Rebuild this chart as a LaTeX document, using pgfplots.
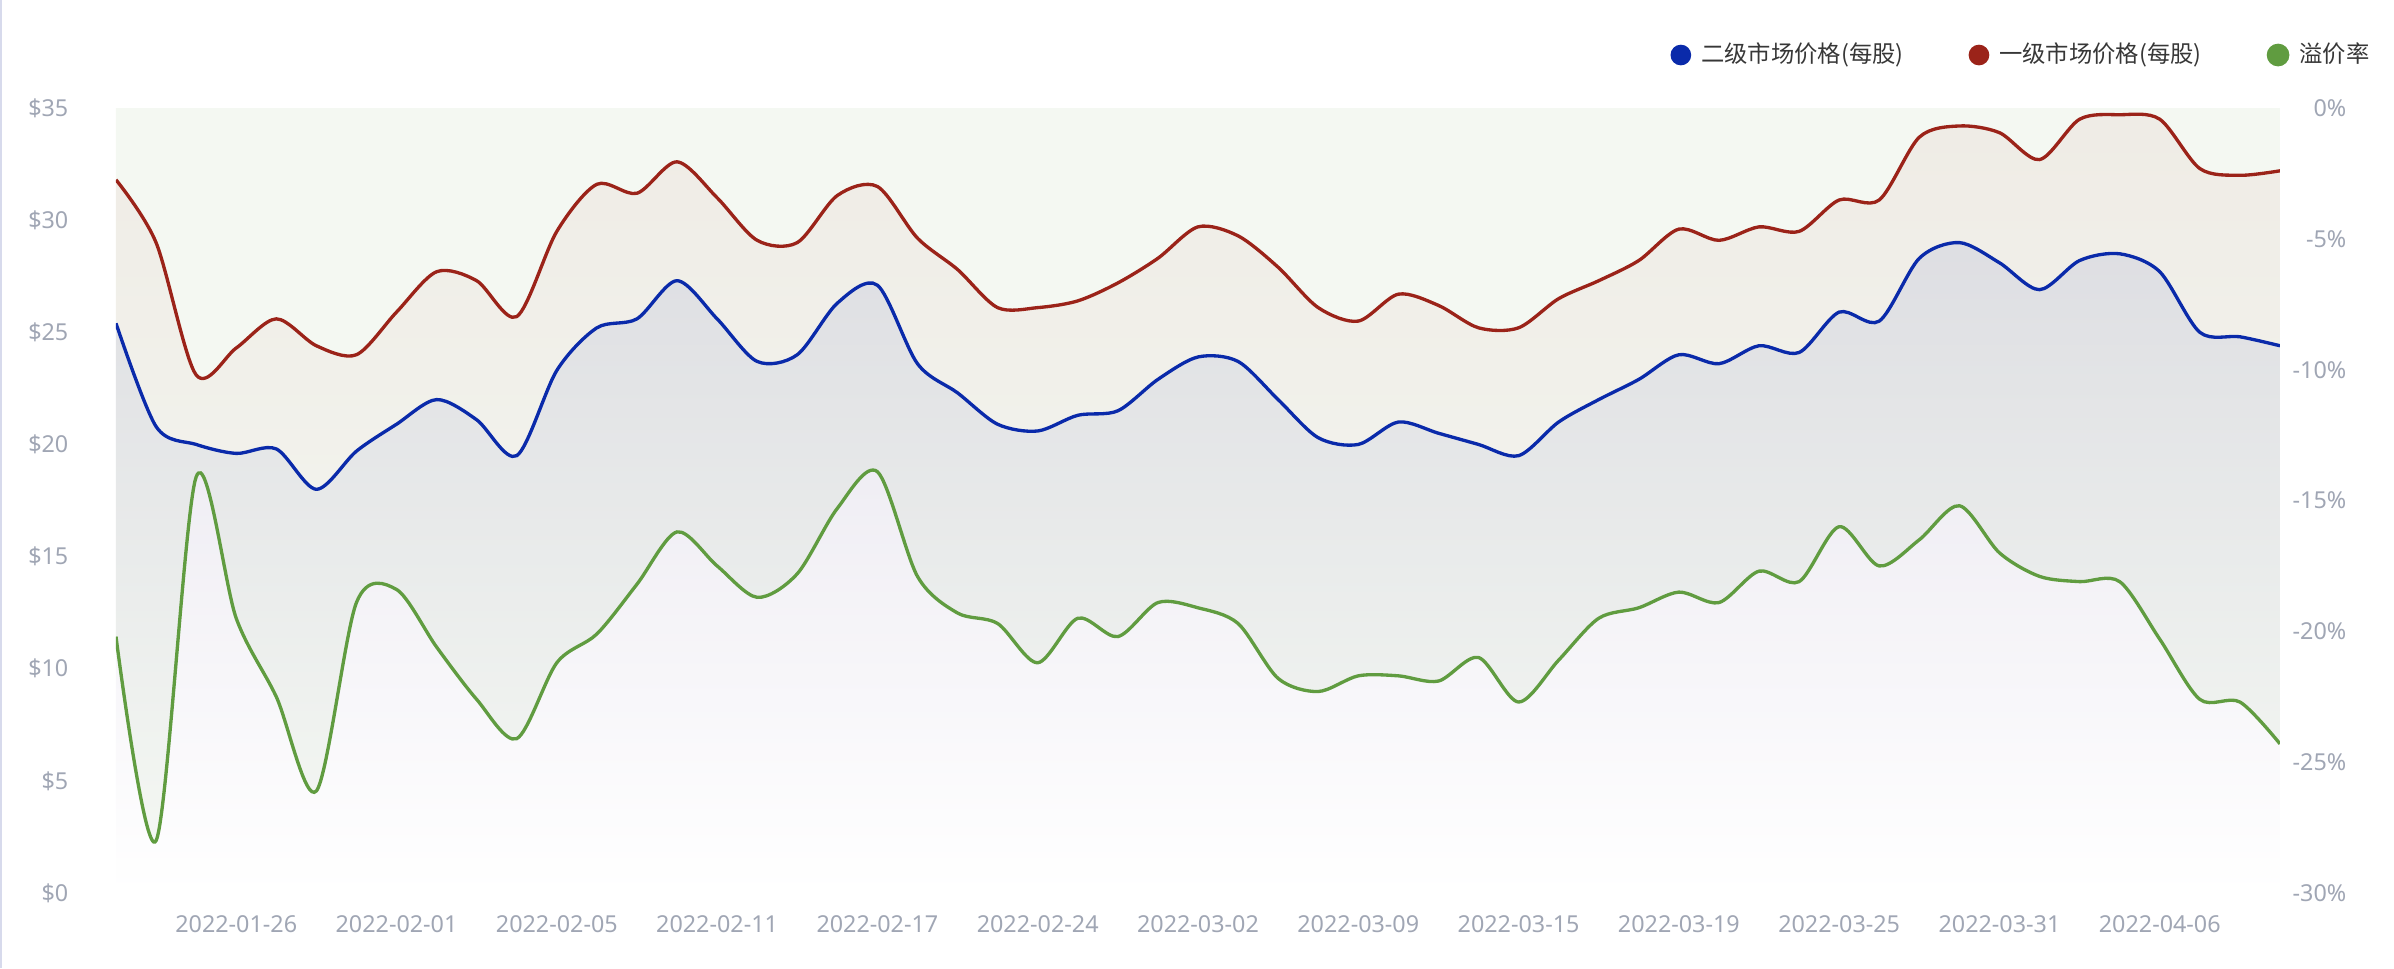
\documentclass[border=0pt]{standalone}
\usepackage{pgfplots}
\pgfplotsset{compat=1.18}
\usepackage{pgfplotstable}
\usepackage{fontspec}
\setmainfont{Noto Sans}
\newfontfamily\cjk{Noto Sans CJK SC}
\definecolor{bluecol}{RGB}{10,42,170}
\definecolor{redcol}{RGB}{155,35,25}
\definecolor{greencol}{RGB}{96,156,64}
\definecolor{tickgray}{RGB}{160,166,180}
\definecolor{legtext}{RGB}{55,55,55}
\definecolor{bordercol}{RGB}{215,218,236}

\pgfplotstableread{
i blue red prem
0 25.4 31.8 -20.2
1 20.8 29.0 -28.0
2 20.0 23.1 -14.1
3 19.6 24.3 -19.5
4 19.8 25.6 -22.5
5 18.0 24.4 -26.1
6 19.7 24.0 -18.9
7 20.9 25.9 -18.4
8 22.0 27.7 -20.6
9 21.1 27.3 -22.6
10 19.5 25.7 -24.1
11 23.3 29.5 -21.2
12 25.2 31.6 -20.1
13 25.6 31.2 -18.2
14 27.3 32.6 -16.2
15 25.6 31.0 -17.5
16 23.7 29.1 -18.7
17 24.0 29.0 -17.8
18 26.3 31.1 -15.3
19 27.1 31.5 -13.9
20 23.6 29.2 -17.9
21 22.3 27.8 -19.3
22 20.9 26.1 -19.7
23 20.6 26.1 -21.2
24 21.3 26.4 -19.5
25 21.5 27.2 -20.2
26 22.9 28.3 -18.9
27 23.9 29.7 -19.1
28 23.7 29.3 -19.7
29 22.0 27.9 -21.8
30 20.3 26.1 -22.3
31 20.0 25.5 -21.7
32 21.0 26.7 -21.7
33 20.5 26.2 -21.9
34 20.0 25.2 -21.0
35 19.5 25.2 -22.7
36 21.0 26.5 -21.1
37 22.0 27.3 -19.5
38 22.9 28.2 -19.1
39 24.0 29.6 -18.5
40 23.6 29.1 -18.9
41 24.4 29.7 -17.7
42 24.1 29.5 -18.1
43 25.9 30.9 -16.0
44 25.5 30.9 -17.5
45 28.3 33.7 -16.5
46 29.0 34.2 -15.2
47 28.1 33.9 -17.0
48 26.9 32.7 -17.9
49 28.2 34.5 -18.1
50 28.5 34.7 -18.1
51 27.7 34.5 -20.3
52 25.0 32.3 -22.6
53 24.8 32.0 -22.7
54 24.4 32.2 -24.3
}\datatable

\pgfplotsset{
  base/.style={
    at={(34.8pt,22.5pt)}, anchor=south west,
    scale only axis, width=649.2pt, height=235.5pt,
    xmin=0, xmax=54,
    axis line style={draw=none}, tick style={draw=none},
    ticklabel style={font=\fontsize{7}{8}\selectfont, text=tickgray},
  }
}

\begin{document}
\begin{tikzpicture}
\useasboundingbox (0,0) rectangle (718.2pt,290.4pt);
\draw[bordercol, line width=0.6pt] (0.4pt,0) -- (0.4pt,290.4pt);

% green area (right scale)
\begin{axis}[base, ymin=-30, ymax=0, hide axis]
\addplot[draw=none, fill=greencol, fill opacity=0.065, smooth] table[x=i,y=prem]{\datatable} \closedcycle;
\end{axis}

% prices (left scale)
\begin{axis}[base, ymin=0, ymax=35,
  xtick={3,7,...,51},
  xticklabels={2022-01-26,2022-02-01,2022-02-05,2022-02-11,2022-02-17,2022-02-24,2022-03-02,2022-03-09,2022-03-15,2022-03-19,2022-03-25,2022-03-31,2022-04-06},
  ytick={0,5,...,35},
  yticklabels={\$0,\$5,\$10,\$15,\$20,\$25,\$30,\$35},
  xticklabel style={anchor=base, inner sep=0pt, yshift=-11.7pt},
  yticklabel style={anchor=east, inner sep=0pt, xshift=-14.1pt},
]
\addplot[draw=none, top color=redcol, bottom color=white, fill opacity=0.06, smooth] table[x=i,y=red]{\datatable} \closedcycle;
\addplot[draw=none, top color=bluecol, bottom color=white, fill opacity=0.08, smooth] table[x=i,y=blue]{\datatable} \closedcycle;
\addplot[bluecol, line width=1pt, smooth] table[x=i,y=blue]{\datatable};
\addplot[redcol, line width=1pt, smooth] table[x=i,y=red]{\datatable};
\end{axis}

% premium line (right scale)
\begin{axis}[base, ymin=-30, ymax=0,
  xtick=\empty,
  ytick={-30,-25,...,0},
  yticklabels={-30\%,-25\%,-20\%,-15\%,-10\%,-5\%,0\%},
  yticklabel pos=right,
  yticklabel style={anchor=east, inner sep=0pt, xshift=20.1pt},
  legend columns=3,
  legend image code/.code={\fill[#1] (0pt,0pt) circle (2.9pt);},
  legend style={at={(1.0444,1.0675)}, anchor=east, draw=none, fill=none,
    inner sep=0pt, outer sep=0pt,
    font=\cjk\fontsize{7}{8}\selectfont, text=legtext,
    /tikz/every odd column/.append style={column sep=1pt},
    /tikz/every even column/.append style={column sep=17.5pt}},
]
\addlegendimage{bluecol}
\addlegendentry{二级市场价格(每股)}
\addlegendimage{redcol}
\addlegendentry{一级市场价格(每股)}
\addplot[greencol, line width=1pt, smooth] table[x=i,y=prem]{\datatable};
\addlegendentry{溢价率}
\end{axis}
\end{tikzpicture}
\end{document}
